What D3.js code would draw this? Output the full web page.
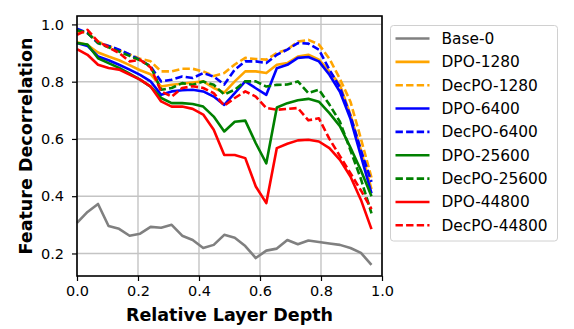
<!DOCTYPE html>
<html>
<head>
<meta charset="utf-8">
<script src="https://cdn.jsdelivr.net/npm/d3@7"></script>
<style>
  body { margin: 0; background: #fff; }
  text { font-family: "DejaVu Sans", sans-serif; }
</style>
</head>
<body>
<div id="chart-area"></div>
<script>
// Data, one value per layer
var depth = d3.range(29).map(function(i){ return i / 29; });

var base0      = [0.307,0.345,0.373,0.296,0.286,0.262,0.269,0.293,0.290,0.300,0.262,0.247,0.219,0.230,0.265,0.255,0.226,0.184,0.210,0.217,0.247,0.232,0.245,0.240,0.235,0.230,0.219,0.202,0.160];
var dpo1280    = [0.938,0.928,0.902,0.888,0.875,0.858,0.840,0.826,0.783,0.789,0.793,0.797,0.801,0.778,0.762,0.801,0.836,0.836,0.830,0.859,0.865,0.888,0.894,0.877,0.836,0.789,0.685,0.560,0.425];
var decpo1280  = [0.975,0.970,0.940,0.925,0.910,0.895,0.880,0.871,0.836,0.836,0.845,0.845,0.836,0.820,0.830,0.860,0.883,0.879,0.877,0.900,0.912,0.940,0.946,0.930,0.880,0.810,0.730,0.600,0.465];
var dpo6400    = [0.935,0.925,0.888,0.875,0.859,0.842,0.824,0.801,0.754,0.766,0.770,0.772,0.766,0.748,0.719,0.760,0.801,0.777,0.754,0.847,0.859,0.883,0.886,0.871,0.824,0.765,0.670,0.540,0.410];
var decpo6400  = [0.985,0.970,0.935,0.925,0.912,0.895,0.876,0.853,0.801,0.807,0.818,0.813,0.830,0.818,0.790,0.842,0.871,0.871,0.865,0.894,0.912,0.935,0.933,0.912,0.842,0.780,0.680,0.560,0.450];
var dpo25600   = [0.935,0.930,0.882,0.865,0.848,0.828,0.807,0.783,0.743,0.725,0.725,0.722,0.713,0.678,0.626,0.660,0.664,0.585,0.515,0.710,0.725,0.735,0.740,0.730,0.690,0.645,0.570,0.490,0.400];
var decpo25600 = [0.980,0.970,0.935,0.920,0.905,0.890,0.875,0.853,0.772,0.778,0.795,0.789,0.801,0.789,0.755,0.772,0.801,0.801,0.783,0.789,0.790,0.801,0.760,0.772,0.720,0.660,0.560,0.460,0.340];
var dpo44800   = [0.914,0.894,0.859,0.848,0.842,0.825,0.807,0.783,0.731,0.713,0.713,0.705,0.685,0.632,0.544,0.544,0.533,0.434,0.376,0.568,0.583,0.595,0.597,0.591,0.568,0.527,0.469,0.387,0.285];
var decpo44800 = [0.964,0.981,0.940,0.920,0.900,0.871,0.876,0.850,0.766,0.748,0.778,0.784,0.778,0.760,0.716,0.743,0.766,0.748,0.708,0.702,0.705,0.708,0.665,0.672,0.600,0.540,0.480,0.420,0.355];

var seriesNames = ["Base-0","DPO-1280","DecPO-1280","DPO-6400","DecPO-6400","DPO-25600","DecPO-25600","DPO-44800","DecPO-44800"];
var seriesValues = [base0, dpo1280, decpo1280, dpo6400, decpo6400, dpo25600, decpo25600, dpo44800, decpo44800];
var seriesColors = ["gray","orange","orange","blue","blue","green","green","red","red"];
var seriesDashed = [false,false,true,false,true,false,true,false,true];

var xTicks = [0, 0.2, 0.4, 0.6, 0.8, 1.0];
var yTicks = [0.2, 0.4, 0.6, 0.8, 1.0];

var margin = { left:77, right:192, top:16, bottom:53 };
var width = 574 - margin.left - margin.right,
    height = 329 - margin.top - margin.bottom;

var svg = d3.select("#chart-area")
    .append("svg")
        .attr("width", 574)
        .attr("height", 329);
var g = svg.append("g")
        .attr("transform", "translate(" + margin.left + "," + margin.top + ")");

// Scales
var x = d3.scaleLinear().domain([0, 1]).range([0, width]);
var y = d3.scaleLinear().domain([0.1213, 1.0294]).range([height, 0]);

// Grid
g.append("g").selectAll("line").data(xTicks).enter().append("line")
    .attr("x1", function(d){ return x(d); }).attr("x2", function(d){ return x(d); })
    .attr("y1", 0).attr("y2", height)
    .attr("stroke", "#c4c4c4").attr("stroke-width", 1.4);
g.append("g").selectAll("line").data(yTicks).enter().append("line")
    .attr("y1", function(d){ return y(d); }).attr("y2", function(d){ return y(d); })
    .attr("x1", 0).attr("x2", width)
    .attr("stroke", "#c4c4c4").attr("stroke-width", 1.4);

// Lines
var line = d3.line()
    .x(function(d, i){ return x(depth[i]); })
    .y(function(d){ return y(d); });

seriesValues.forEach(function(vals, k){
    g.append("path")
        .datum(vals)
        .attr("fill", "none")
        .attr("stroke", seriesColors[k])
        .attr("stroke-width", 2.6)
        .attr("stroke-linejoin", "round")
        .attr("stroke-dasharray", seriesDashed[k] ? "7.4,3.2" : null)
        .attr("d", line);
});

// Axes
var xAxisCall = d3.axisBottom(x).tickValues(xTicks).tickSize(5).tickPadding(5)
    .tickFormat(d3.format(".1f"));
var xAxis = g.append("g")
    .attr("transform", "translate(0," + height + ")")
    .call(xAxisCall);
var yAxisCall = d3.axisLeft(y).tickValues(yTicks).tickSize(5).tickPadding(8)
    .tickFormat(d3.format(".1f"));
var yAxis = g.append("g").call(yAxisCall);

[xAxis, yAxis].forEach(function(a){
    a.select(".domain").remove();
    a.selectAll("line").attr("stroke", "#000").attr("stroke-width", 1.2);
    a.selectAll("text").attr("font-size", "14.5px").attr("fill", "#000")
        .style("font-family", "DejaVu Sans");
});

// Frame
g.append("rect")
    .attr("width", width).attr("height", height)
    .attr("fill", "none").attr("stroke", "#000").attr("stroke-width", 1.6);

// Labels
svg.append("text")
    .attr("x", margin.left + width / 2)
    .attr("y", 321)
    .attr("text-anchor", "middle")
    .attr("font-size", "17.5px")
    .attr("font-weight", "bold")
    .text("Relative Layer Depth");
svg.append("text")
    .attr("transform", "translate(32," + (margin.top + height / 2) + ") rotate(-90)")
    .attr("text-anchor", "middle")
    .attr("font-size", "17.5px")
    .attr("font-weight", "bold")
    .text("Feature Decorrelation");

// Legend
var legend = svg.append("g").attr("transform", "translate(390.5,25.5)");
legend.append("rect")
    .attr("width", 167).attr("height", 215.5)
    .attr("rx", 3).attr("ry", 3)
    .attr("fill", "#fff").attr("stroke", "#d0d0d0").attr("stroke-width", 1);

seriesNames.forEach(function(name, i){
    var row = legend.append("g")
        .attr("transform", "translate(0," + (13 + i * 23.35) + ")");
    row.append("line")
        .attr("x1", 5).attr("x2", 39)
        .attr("stroke", seriesColors[i])
        .attr("stroke-width", 2.6)
        .attr("stroke-dasharray", seriesDashed[i] ? "7.4,3.2" : null);
    row.append("text")
        .attr("x", 51)
        .attr("y", 5.5)
        .attr("font-size", "15.4px")
        .text(name);
});
</script>
</body>
</html>
